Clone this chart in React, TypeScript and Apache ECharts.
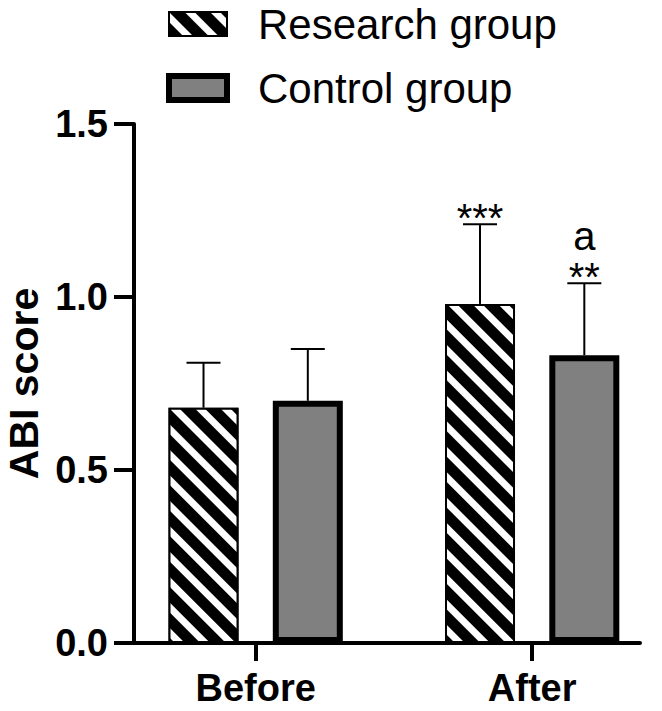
import React, { useEffect, useRef } from 'react';
import * as echarts from 'echarts';

const categories = ['Before', 'After'];
const researchMean = [0.68, 0.98];
const researchUpper = [0.81, 1.21];
const controlMean = [0.7, 0.832];
const controlUpper = [0.85, 1.04];
const researchMarks = ['', '***'];
const controlMarks = ['', '**'];
const controlLetters = ['', 'a'];
const yTicks = [0, 0.5, 1.0, 1.5];

const FONT = 'Liberation Sans, Arial, sans-serif';
const BAR_W = 70;
const BAR_GAP = 0.49;
const OFFSET = (BAR_W * (1 + BAR_GAP)) / 2;

function errorSeries(name: string, means: number[], uppers: number[], marks: string[], letters: string[], dir: number) {
  return {
    type: 'custom',
    name: name + ' SD',
    z: 1,
    data: means.map((m, i) => [i, m, uppers[i]]),
    renderItem: (params: any, api: any) => {
      const i = api.value(0);
      const top = api.coord([i, api.value(2)]);
      const base = api.coord([i, api.value(1)]);
      const x = top[0] + dir * OFFSET;
      const ls = { stroke: '#000', lineWidth: 2 };
      const children: any[] = [
        { type: 'line', shape: { x1: x, y1: base[1], x2: x, y2: top[1] }, style: ls },
        { type: 'line', shape: { x1: x - 17, y1: top[1], x2: x + 17, y2: top[1] }, style: ls },
      ];
      if (marks[i]) {
        children.push({
          type: 'text',
          x: x,
          y: top[1] + 14,
          style: { text: marks[i], fill: '#000', font: '40px ' + FONT, textAlign: 'center', textVerticalAlign: 'bottom' },
        });
      }
      if (letters[i]) {
        children.push({
          type: 'text',
          x: x,
          y: top[1] - 47,
          style: { text: letters[i], fill: '#000', font: '40px ' + FONT, textAlign: 'center', textVerticalAlign: 'middle' },
        });
      }
      return { type: 'group', children };
    },
  };
}

export default function App() {
  const ref = useRef<HTMLDivElement>(null);
  useEffect(() => {
    const chart = echarts.init(ref.current!, null, { renderer: 'svg' });
    const idx = categories.map((_, i) => i);
    chart.setOption({
      animation: false,
      backgroundColor: '#fff',
      textStyle: { fontFamily: FONT },
      legend: {
        orient: 'vertical',
        left: 166,
        top: 3,
        padding: 0,
        itemWidth: 58,
        itemHeight: 24,
        itemGap: 22,
        icon: 'rect',
        selectedMode: false,
        textStyle: { fontSize: 42, color: '#000', fontFamily: FONT, padding: [0, 0, 0, 26] },
        data: [
          { name: 'Research group', itemStyle: { borderWidth: 2, borderColor: '#000' } },
          { name: 'Control group', itemStyle: { borderWidth: 6, borderColor: '#000' } },
        ],
      },
      grid: { left: 134, right: 22, top: 124, bottom: 68, containLabel: false, outerBoundsMode: 'none' },
      xAxis: {
        type: 'value',
        min: -0.44,
        max: 1.39,
        axisLine: { show: true, onZero: false, lineStyle: { color: '#000', width: 4 } },
        axisTick: { show: true, length: 18, lineStyle: { color: '#000', width: 4 }, customValues: idx },
        axisLabel: {
          customValues: idx,
          margin: 26,
          fontSize: 38,
          fontWeight: 'bold',
          color: '#000',
          fontFamily: FONT,
          formatter: (v: number) => categories[Math.round(v)] ?? '',
        },
        splitLine: { show: false },
      },
      yAxis: {
        type: 'value',
        min: 0,
        max: 1.5,
        interval: 0.5,
        name: 'ABI score',
        nameLocation: 'middle',
        nameGap: 88,
        nameTextStyle: { fontSize: 41, fontWeight: 'bold', color: '#000', fontFamily: FONT },
        axisLine: { show: true, onZero: false, lineStyle: { color: '#000', width: 4 } },
        axisTick: { show: true, length: 20, lineStyle: { color: '#000', width: 4 }, customValues: yTicks },
        axisLabel: {
          customValues: yTicks,
          margin: 26,
          fontSize: 38,
          fontWeight: 'bold',
          color: '#000',
          fontFamily: FONT,
          formatter: (v: number) => v.toFixed(1),
        },
        splitLine: { show: false },
      },
      series: [
        {
          type: 'bar',
          name: 'Research group',
          barWidth: BAR_W,
          barGap: BAR_GAP * 100 + '%',
          data: researchMean.map((v, i) => [i, v]),
          itemStyle: {
            color: '#000',
            borderColor: '#000',
            borderWidth: 2,
            decal: {
              symbol: 'rect',
              symbolSize: 1,
              color: '#fff',
              dashArrayX: [1, 0],
              dashArrayY: [7, 11],
              rotation: Math.PI / 4,
            },
          },
        },
        {
          type: 'bar',
          name: 'Control group',
          barWidth: BAR_W,
          barGap: BAR_GAP * 100 + '%',
          data: controlMean.map((v, i) => [i, v]),
          itemStyle: { color: '#808080', borderColor: '#000', borderWidth: 6 },
        },
        errorSeries('Research group', researchMean, researchUpper, researchMarks, ['', ''], -1),
        errorSeries('Control group', controlMean, controlUpper, controlMarks, controlLetters, 1),
      ],
    });
    return () => chart.dispose();
  }, []);
  return <div ref={ref} style={{ position: 'fixed', left: 0, top: 0, width: 662, height: 711 }} />;
}
